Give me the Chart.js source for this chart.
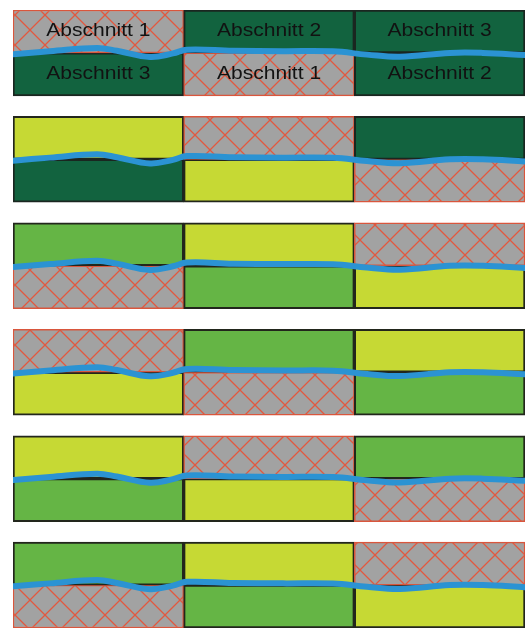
<!DOCTYPE html>
<html>
<head>
<meta charset="utf-8">
<script src="https://cdn.jsdelivr.net/npm/chart.js@4/dist/chart.umd.min.js"></script>
<style>
  html, body { margin: 0; padding: 0; background: #ffffff; }
  #wrap { width: 525px; height: 628px; }
</style>
</head>
<body>
<div id="wrap"><canvas id="c" width="525" height="628"></canvas></div>
<script>
// ---- data ----
const columns = ['Spalte 1', 'Spalte 2', 'Spalte 3'];
// cell type per panel (top half / bottom half), per column
const topCells = [
  ['hatch', 'dark', 'dark'],
  ['yellow', 'hatch', 'dark'],
  ['green', 'yellow', 'hatch'],
  ['hatch', 'green', 'yellow'],
  ['yellow', 'hatch', 'green'],
  ['green', 'yellow', 'hatch']
];
const bottomCells = [
  ['dark', 'hatch', 'dark'],
  ['dark', 'yellow', 'hatch'],
  ['hatch', 'green', 'yellow'],
  ['yellow', 'hatch', 'green'],
  ['green', 'yellow', 'hatch'],
  ['hatch', 'green', 'yellow']
];
// labels in the first panel
const topLabels = ['Abschnitt 1', 'Abschnitt 2', 'Abschnitt 3'];
const bottomLabels = ['Abschnitt 3', 'Abschnitt 1', 'Abschnitt 2'];
// river course: x in column units, offset from panel middle in panel-height fractions
const riverX = [0, 0.217, 0.492, 0.609, 0.803, 0.937, 1.019, 1.289, 1.582, 1.875, 2.074, 2.267, 2.56, 2.753, 3.0];
const riverOffset = [0.015, -0.02, -0.058, -0.025, 0.048, 0.006, -0.038, -0.025, -0.02, -0.018, 0.02, 0.045, 0, 0, 0.025];

// ---- styles ----
const PITCH = 1.24; // panel height 1 + gap
const ctxMain = document.getElementById('c').getContext('2d');

function makeHatch() {
  const s = 30;
  const cv = document.createElement('canvas');
  cv.width = s; cv.height = s;
  const g = cv.getContext('2d');
  g.fillStyle = '#a2a2a2';
  g.fillRect(0, 0, s, s);
  g.strokeStyle = '#e2583f';
  g.lineWidth = 1.3;
  g.beginPath();
  for (const d of [-s, 0, s]) {
    g.moveTo(d, 0); g.lineTo(d + s, s);
    g.moveTo(d + s, 0); g.lineTo(d, s);
  }
  g.stroke();
  return ctxMain.createPattern(cv, 'repeat');
}
const fills = {
  hatch: makeHatch(),
  dark: '#12633f',
  yellow: '#c6d934',
  green: '#65b545'
};
const borders = {
  hatch: '#d9563d',
  dark: '#1a2620',
  yellow: '#22261c',
  green: '#22261c'
};

// ---- datasets ----
const datasets = [];
topCells.forEach((row, p) => {
  [row, bottomCells[p]].forEach((cells, h) => {
    const y0 = p * PITCH + h * 0.5;
    datasets.push({
      type: 'bar',
      xAxisID: 'x',
      yAxisID: 'y',
      grouped: false,
      barPercentage: 1,
      categoryPercentage: 1,
      borderSkipped: false,
      borderWidth: cells.map(c => c === 'hatch' ? 1.5 : 2),
      data: columns.map(() => [y0, y0 + 0.5]),
      backgroundColor: cells.map(c => fills[c]),
      borderColor: cells.map(c => borders[c]),
      order: 2
    });
  });
});
topCells.forEach((row, p) => {
  datasets.push({
    type: 'line',
    xAxisID: 'xl',
    yAxisID: 'y',
    data: riverX.map((x, i) => ({ x: x, y: p * PITCH + 0.5 + riverOffset[i] })),
    borderColor: '#2b93d3',
    borderWidth: 6,
    borderCapStyle: 'round',
    pointRadius: 0,
    tension: 0.4,
    fill: false,
    order: 1
  });
});

const labelPlugin = {
  id: 'cellLabels',
  afterDatasetsDraw(chart) {
    const c = chart.ctx;
    const xs = chart.scales.x, ys = chart.scales.y;
    c.save();
    c.fillStyle = '#121212';
    c.font = '18px "Liberation Sans", Arial, sans-serif';
    c.textAlign = 'center';
    c.textBaseline = 'middle';
    [[topLabels, 0.25], [bottomLabels, 0.75]].forEach(([labels, yy]) => {
      labels.forEach((t, i) => {
        const px = xs.getPixelForValue(i);
        const py = ys.getPixelForValue(yy);
        c.save();
        c.translate(px, py);
        c.scale(1.17, 1);
        c.fillText(t, 0, 0);
        c.restore();
      });
    });
    c.restore();
  }
};

new Chart(ctxMain, {
  data: { labels: columns, datasets: datasets },
  options: {
    responsive: false,
    animation: false,
    layout: { padding: { left: 13, top: 10, right: 0, bottom: 0 } },
    plugins: { legend: { display: false }, tooltip: { enabled: false } },
    scales: {
      x: { type: 'category', display: false, offset: true },
      xl: { type: 'linear', display: false, min: 0, max: 3 },
      y: { type: 'linear', display: false, reverse: true, min: 0, max: 5 * PITCH + 1 }
    }
  },
  plugins: [labelPlugin]
});
</script>
</body>
</html>
